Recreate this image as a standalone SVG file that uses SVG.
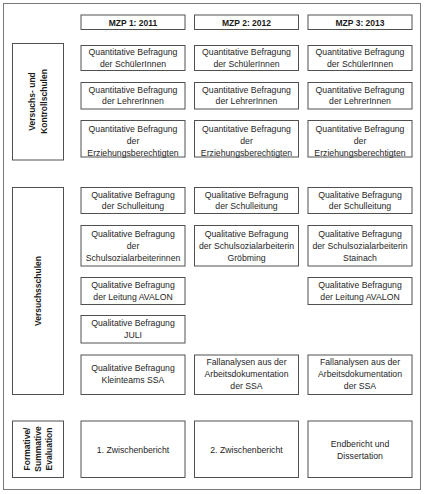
<svg xmlns="http://www.w3.org/2000/svg" width="424" height="494" viewBox="0 0 424 494">
<style>
.b{fill:#fff;stroke:#505050;stroke-width:1}
.t{font-family:"Liberation Sans",Arial,sans-serif;font-size:8.7px;fill:#262626;text-anchor:middle}
.h{font-family:"Liberation Sans",Arial,sans-serif;font-size:8.5px;font-weight:bold;fill:#1a1a1a;text-anchor:middle}
</style>
<rect x="0" y="0" width="424" height="494" fill="#fff"/>
<rect id="frame" x="3.5" y="3.5" width="417" height="486" fill="#fff" stroke="#7a7a7a" stroke-width="1"/>
<g id="connectors"></g>

<g id="hdr1"><rect class="b" x="81" y="15" width="104" height="14.5"/><text class="h" x="133" y="25.5">MZP 1: 2011</text></g>
<g id="hdr2"><rect class="b" x="194.5" y="15" width="104" height="14.5"/><text class="h" x="246.5" y="25.5">MZP 2: 2012</text></g>
<g id="hdr3"><rect class="b" x="308" y="15" width="104" height="14.5"/><text class="h" x="360" y="25.5">MZP 3: 2013</text></g>

<g id="lbl1"><rect class="b" x="12.5" y="43.5" width="51" height="116.5"/>
<text class="h" transform="translate(38,101.5) rotate(-90)"><tspan x="0" y="-2.8">Versuchs- und</tspan><tspan x="0" y="8.7">Kontrollschulen</tspan></text></g>

<g id="q1c1"><rect class="b" x="81" y="45.5" width="104" height="25"/><text class="t"><tspan x="133" y="55">Quantitative Befragung</tspan><tspan x="133" y="66.5">der SchülerInnen</tspan></text></g>
<g id="q1c2"><rect class="b" x="194.5" y="45.5" width="104" height="25"/><text class="t"><tspan x="246.5" y="55">Quantitative Befragung</tspan><tspan x="246.5" y="66.5">der SchülerInnen</tspan></text></g>
<g id="q1c3"><rect class="b" x="308" y="45.5" width="104" height="25"/><text class="t"><tspan x="360" y="55">Quantitative Befragung</tspan><tspan x="360" y="66.5">der SchülerInnen</tspan></text></g>

<g id="q2c1"><rect class="b" x="81" y="82.5" width="104" height="26.5"/><text class="t"><tspan x="133" y="92.5">Quantitative Befragung</tspan><tspan x="133" y="104">der LehrerInnen</tspan></text></g>
<g id="q2c2"><rect class="b" x="194.5" y="82.5" width="104" height="26.5"/><text class="t"><tspan x="246.5" y="92.5">Quantitative Befragung</tspan><tspan x="246.5" y="104">der LehrerInnen</tspan></text></g>
<g id="q2c3"><rect class="b" x="308" y="82.5" width="104" height="26.5"/><text class="t"><tspan x="360" y="92.5">Quantitative Befragung</tspan><tspan x="360" y="104">der LehrerInnen</tspan></text></g>

<g id="q3c1"><rect class="b" x="81" y="120.5" width="104" height="36.5"/><text class="t"><tspan x="133" y="131.5">Quantitative Befragung</tspan><tspan x="133" y="143.5">der</tspan><tspan x="133" y="155.5">Erziehungsberechtigten</tspan></text></g>
<g id="q3c2"><rect class="b" x="194.5" y="120.5" width="104" height="36.5"/><text class="t"><tspan x="246.5" y="131.5">Quantitative Befragung</tspan><tspan x="246.5" y="143.5">der</tspan><tspan x="246.5" y="155.5">Erziehungsberechtigten</tspan></text></g>
<g id="q3c3"><rect class="b" x="308" y="120.5" width="104" height="36.5"/><text class="t"><tspan x="360" y="131.5">Quantitative Befragung</tspan><tspan x="360" y="143.5">der</tspan><tspan x="360" y="155.5">Erziehungsberechtigten</tspan></text></g>

<g id="lbl2"><rect class="b" x="12.5" y="187.5" width="51" height="207"/>
<text class="h" transform="translate(38,291) rotate(-90)"><tspan x="0" y="3">Versuchsschulen</tspan></text></g>

<g id="s1c1"><rect class="b" x="81" y="187.5" width="104" height="26"/><text class="t"><tspan x="133" y="197.5">Qualitative Befragung</tspan><tspan x="133" y="209">der Schulleitung</tspan></text></g>
<g id="s1c2"><rect class="b" x="194.5" y="187.5" width="104" height="26"/><text class="t"><tspan x="246.5" y="197.5">Qualitative Befragung</tspan><tspan x="246.5" y="209">der Schulleitung</tspan></text></g>
<g id="s1c3"><rect class="b" x="308" y="187.5" width="104" height="26"/><text class="t"><tspan x="360" y="197.5">Qualitative Befragung</tspan><tspan x="360" y="209">der Schulleitung</tspan></text></g>

<g id="s2c1"><rect class="b" x="81" y="225.5" width="104" height="40.5"/><text class="t"><tspan x="133" y="236.5">Qualitative Befragung</tspan><tspan x="133" y="248.5">der</tspan><tspan x="133" y="260.5">Schulsozialarbeiterinnen</tspan></text></g>
<g id="s2c2"><rect class="b" x="194.5" y="225.5" width="104" height="40.5"/><text class="t"><tspan x="246.5" y="236.5">Qualitative Befragung</tspan><tspan x="246.5" y="248.5">der Schulsozialarbeiterin</tspan><tspan x="246.5" y="260.5">Gröbming</tspan></text></g>
<g id="s2c3"><rect class="b" x="308" y="225.5" width="104" height="40.5"/><text class="t"><tspan x="360" y="236.5">Qualitative Befragung</tspan><tspan x="360" y="248.5">der Schulsozialarbeiterin</tspan><tspan x="360" y="260.5">Stainach</tspan></text></g>

<g id="s3c1"><rect class="b" x="81" y="277.5" width="104" height="27"/><text class="t"><tspan x="133" y="288">Qualitative Befragung</tspan><tspan x="133" y="299.5">der Leitung AVALON</tspan></text></g>
<g id="s3c3"><rect class="b" x="308" y="277.5" width="104" height="27"/><text class="t"><tspan x="360" y="288">Qualitative Befragung</tspan><tspan x="360" y="299.5">der Leitung AVALON</tspan></text></g>

<g id="s4c1"><rect class="b" x="81" y="315.5" width="104" height="27.5"/><text class="t"><tspan x="133" y="326">Qualitative Befragung</tspan><tspan x="133" y="337.5">JULI</tspan></text></g>

<g id="s5c1"><rect class="b" x="81" y="355" width="104" height="39.5"/><text class="t"><tspan x="133" y="371">Qualitative Befragung</tspan><tspan x="133" y="382.5">Kleinteams SSA</tspan></text></g>
<g id="s5c2"><rect class="b" x="194.5" y="355" width="104" height="39.5"/><text class="t"><tspan x="246.5" y="365">Fallanalysen aus der</tspan><tspan x="246.5" y="377">Arbeitsdokumentation</tspan><tspan x="246.5" y="389">der SSA</tspan></text></g>
<g id="s5c3"><rect class="b" x="308" y="355" width="104" height="39.5"/><text class="t"><tspan x="360" y="365">Fallanalysen aus der</tspan><tspan x="360" y="377">Arbeitsdokumentation</tspan><tspan x="360" y="389">der SSA</tspan></text></g>

<g id="lbl3"><rect class="b" x="12.5" y="421" width="51" height="56.5"/>
<text class="h" transform="translate(38,449) rotate(-90)"><tspan x="0" y="-8">Formative/</tspan><tspan x="0" y="3">Summative</tspan><tspan x="0" y="14">Evaluation</tspan></text></g>

<g id="e1"><rect class="b" x="81" y="421" width="104" height="56.5"/><text class="t" x="133" y="452.5">1. Zwischenbericht</text></g>
<g id="e2"><rect class="b" x="194.5" y="421" width="104" height="56.5"/><text class="t" x="246.5" y="452.5">2. Zwischenbericht</text></g>
<g id="e3"><rect class="b" x="308" y="421" width="104" height="56.5"/><text class="t"><tspan x="360" y="447">Endbericht und</tspan><tspan x="360" y="459">Dissertation</tspan></text></g>
</svg>
